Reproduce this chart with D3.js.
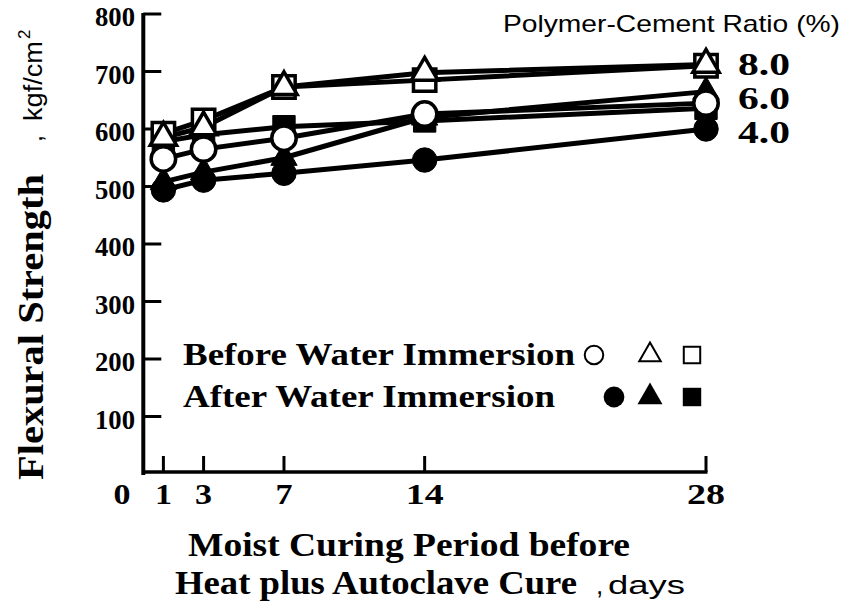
<!DOCTYPE html>
<html>
<head>
<meta charset="utf-8">
<script src="https://cdn.jsdelivr.net/npm/d3@7/dist/d3.min.js"></script>
<style>
  html, body { margin: 0; padding: 0; background: #fff; }
  svg { display: block; }
  .serif { font-family: "Liberation Serif", "DejaVu Serif", serif; font-weight: bold; fill: #000; }
  .sans { font-family: "Liberation Sans", Arial, sans-serif; fill: #000; }
</style>
</head>
<body>
<svg id="chart" width="856" height="601"></svg>
<script>
// Moist curing period (days) at which specimens were tested
const days = [1, 3, 7, 14, 28];

// Flexural strength, kgf/cm2
const beforeCircle   = [548, 565, 584, 626, 645];
const beforeTriangle = [585, 603, 673, 698, 712];
const beforeSquare   = [592, 615, 673, 685, 710];
const afterCircle    = [494, 511, 523, 546, 600];
const afterTriangle  = [508, 525, 550, 620, 665];
const afterSquare    = [578, 590, 604, 614, 636];

const yTicks = [100, 200, 300, 400, 500, 600, 700, 800];
const xTicks = [1, 3, 7, 14, 28];
const ratioLabels = ["8.0", "6.0", "4.0"];

const series = [
  { values: afterCircle,    shape: "circle",   filled: true },
  { values: afterTriangle,  shape: "triangle", filled: true },
  { values: afterSquare,    shape: "square",   filled: true },
  { values: beforeCircle,   shape: "circle",   filled: false },
  { values: beforeSquare,   shape: "square",   filled: false },
  { values: beforeTriangle, shape: "triangle", filled: false }
];

const svg = d3.select("#chart");
const x = d3.scaleLinear().domain([0, 28]).range([143.3, 706]);
const y = d3.scaleLinear().domain([0, 800]).range([474, 14]);

// marker shapes
const symbolFor = { circle: d3.symbolCircle, triangle: d3.symbolTriangle, square: d3.symbolSquare };
const sizeFor = { circle: 470, triangle: 300, square: 500 };
function marker(sel, shape, filled) {
  sel.append("path")
    .attr("d", d3.symbol().type(symbolFor[shape]).size(sizeFor[shape])())
    .attr("fill", filled ? "#000" : "#fff")
    .attr("stroke", "#000")
    .attr("stroke-width", filled ? 1 : 3.5)
    .attr("stroke-linejoin", "miter");
}

// axes
const axisG = svg.append("g");
axisG.append("line").attr("x1", x(0)).attr("x2", x(0)).attr("y1", y(800) - 1).attr("y2", y(0) + 1)
  .attr("stroke", "#000").attr("stroke-width", 4);
axisG.append("line").attr("x1", x(0)).attr("x2", x(28) + 1.5).attr("y1", y(0) - 2).attr("y2", y(0) - 2)
  .attr("stroke", "#000").attr("stroke-width", 3.5);
axisG.selectAll(".yt").data(yTicks).enter().append("line")
  .attr("x1", x(0)).attr("x2", x(0) + 18).attr("y1", d => y(d)).attr("y2", d => y(d))
  .attr("stroke", "#000").attr("stroke-width", 3);
axisG.selectAll(".xt").data(xTicks).enter().append("line")
  .attr("x1", d => x(d)).attr("x2", d => x(d)).attr("y1", y(0) - 2).attr("y2", y(0) - 18)
  .attr("stroke", "#000").attr("stroke-width", 3);

// tick labels
svg.selectAll(".ylab").data(yTicks).enter().append("text")
  .attr("class", "serif").attr("x", 135).attr("y", d => y(d) + 12)
  .attr("text-anchor", "end").attr("font-size", 28)
  .attr("textLength", 40).attr("lengthAdjust", "spacingAndGlyphs").text(d => d);
svg.selectAll(".xlab").data(xTicks).enter().append("text")
  .attr("class", "serif").attr("x", d => x(d)).attr("y", 504)
  .attr("text-anchor", "middle").attr("font-size", 30)
  .attr("textLength", d => (String(d).length > 1 ? 38 : 17)).attr("lengthAdjust", "spacingAndGlyphs")
  .text(d => d);
svg.append("text").attr("class", "serif").attr("x", 122).attr("y", 504)
  .attr("text-anchor", "middle").attr("font-size", 30)
  .attr("textLength", 17).attr("lengthAdjust", "spacingAndGlyphs").text("0");

// series lines
const line = d3.line().x((d, i) => x(days[i])).y(d => y(d));
svg.append("g").selectAll("path").data(series).enter().append("path")
  .attr("d", s => line(s.values)).attr("fill", "none")
  .attr("stroke", "#000").attr("stroke-width", 5).attr("stroke-linejoin", "round");

// series markers
series.forEach(s => {
  s.values.forEach((v, i) => {
    const g = svg.append("g").attr("transform", `translate(${x(days[i])},${y(v)})`);
    marker(g, s.shape, s.filled);
  });
});

// ratio labels at right end
svg.append("text").attr("class", "sans").attr("x", 503).attr("y", 32)
  .attr("font-size", 24).attr("textLength", 337).attr("lengthAdjust", "spacingAndGlyphs")
  .text("Polymer-Cement  Ratio (%)");
svg.selectAll(".rlab").data(ratioLabels).enter().append("text")
  .attr("class", "serif").attr("x", 738).attr("y", (d, i) => 75 + i * 34)
  .attr("font-size", 32).attr("textLength", 52).attr("lengthAdjust", "spacingAndGlyphs")
  .text(d => d);

// legend
const legend = svg.append("g");
legend.append("text").attr("class", "serif").attr("x", 183).attr("y", 365)
  .attr("font-size", 31).attr("textLength", 392).attr("lengthAdjust", "spacingAndGlyphs")
  .text("Before Water Immersion");
legend.append("text").attr("class", "serif").attr("x", 183).attr("y", 407)
  .attr("font-size", 31).attr("textLength", 372).attr("lengthAdjust", "spacingAndGlyphs")
  .text("After Water Immersion");
const legendShapes = ["circle", "triangle", "square"];
const legendX = [594, 650, 692];
const legendXf = [614, 650, 692];
legendShapes.forEach((sh, i) => {
  const g1 = legend.append("g").attr("transform", `translate(${legendX[i]},355)`);
  g1.append("path").attr("d", d3.symbol().type(symbolFor[sh]).size(sh === "triangle" ? 200 : 270)())
    .attr("fill", "#fff").attr("stroke", "#000").attr("stroke-width", 2);
  const g2 = legend.append("g").attr("transform", `translate(${legendXf[i]},397)`);
  g2.append("path").attr("d", d3.symbol().type(symbolFor[sh]).size(sh === "triangle" ? 270 : 340)())
    .attr("fill", "#000");
});

// y-axis title
svg.append("text").attr("class", "serif").attr("transform", "translate(43,480) rotate(-90)")
  .attr("font-size", 36).attr("textLength", 306).attr("lengthAdjust", "spacingAndGlyphs")
  .text("Flexural Strength");
svg.append("text").attr("class", "sans").attr("transform", "translate(42,142) rotate(-90)")
  .attr("font-size", 25).text(",");
svg.append("text").attr("class", "sans").attr("transform", "translate(42,121) rotate(-90)")
  .attr("font-size", 25).attr("textLength", 80).attr("lengthAdjust", "spacingAndGlyphs").text("kgf/cm");
svg.append("text").attr("class", "sans").attr("transform", "translate(30,39) rotate(-90)")
  .attr("font-size", 17).text("2");

// x-axis title
svg.append("text").attr("class", "serif").attr("x", 188).attr("y", 556)
  .attr("font-size", 34).attr("textLength", 442).attr("lengthAdjust", "spacingAndGlyphs")
  .text("Moist Curing Period before");
svg.append("text").attr("class", "serif").attr("x", 175).attr("y", 594)
  .attr("font-size", 34).attr("textLength", 402).attr("lengthAdjust", "spacingAndGlyphs")
  .text("Heat plus Autoclave Cure");
svg.append("text").attr("class", "sans").attr("x", 596).attr("y", 594)
  .attr("font-size", 26).text(",");
svg.append("text").attr("class", "sans").attr("x", 608).attr("y", 594)
  .attr("font-size", 26).attr("textLength", 77).attr("lengthAdjust", "spacingAndGlyphs").text("days");
</script>
</body>
</html>
